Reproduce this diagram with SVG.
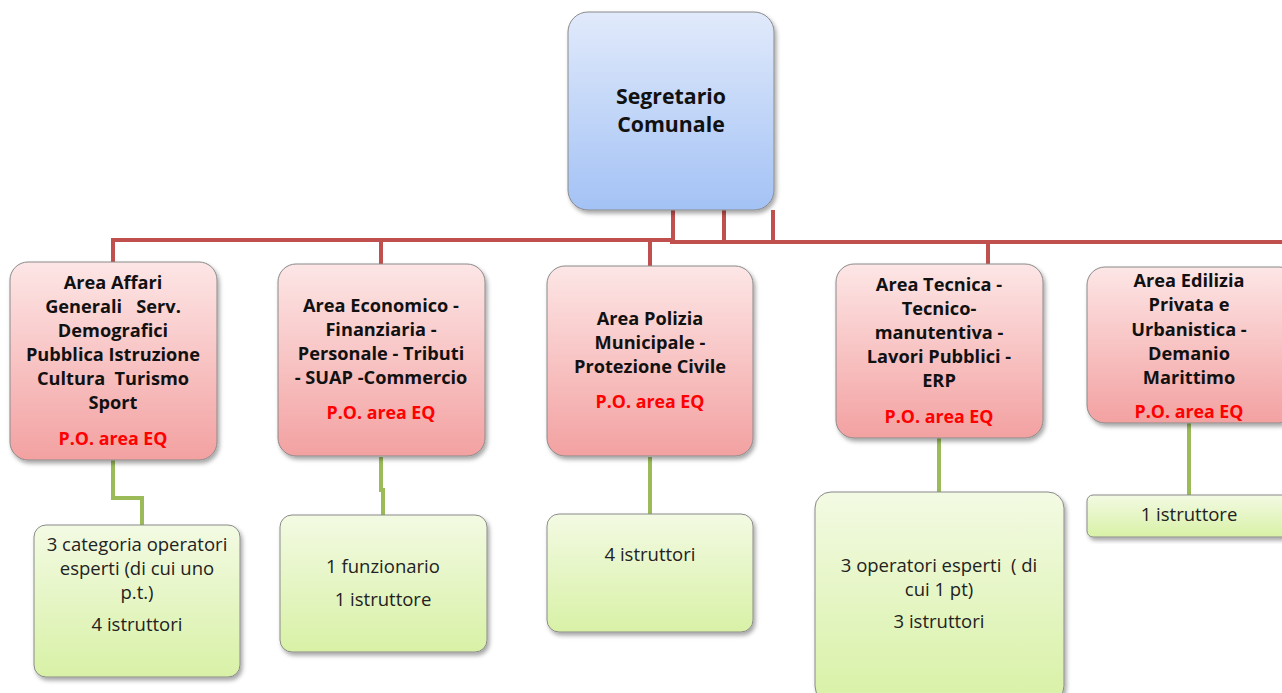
<svg xmlns="http://www.w3.org/2000/svg" width="1282" height="693" viewBox="0 0 1282 693">
<defs>
<linearGradient id="gBlue" x1="0" y1="0" x2="0" y2="1"><stop offset="0" stop-color="#e1eafb"/><stop offset="1" stop-color="#a3c2f5"/></linearGradient>
<linearGradient id="gRed" x1="0" y1="0" x2="0" y2="1"><stop offset="0" stop-color="#fde6e6"/><stop offset="1" stop-color="#f3a1a1"/></linearGradient>
<linearGradient id="gGreen" x1="0" y1="0" x2="0" y2="1"><stop offset="0" stop-color="#f3fae3"/><stop offset="1" stop-color="#d8f1a6"/></linearGradient>
<filter id="sh" x="-10%" y="-10%" width="125%" height="125%"><feDropShadow dx="2" dy="3" stdDeviation="2" flood-color="#000" flood-opacity="0.35"/></filter>
<style>
.box{stroke:#8a8a8a;stroke-width:1;filter:url(#sh)}
.blue{fill:url(#gBlue)}
.red{fill:url(#gRed)}
.green{fill:url(#gGreen)}
.t{font-family:"Open Sans",Lato,"Liberation Sans",sans-serif;text-anchor:middle}
.h{font-weight:bold;font-size:18.2px;fill:#111}
.po{font-weight:bold;font-size:17.8px;fill:#ff0000}
.n{font-size:18.5px;fill:#222}
.root{font-weight:bold;font-size:21.3px;fill:#111}
.rl{stroke:#c0504d;stroke-width:4;fill:none}
.gl{stroke:#9bbb59;stroke-width:4;fill:none}
</style>
</defs>

<g id="connectors">
<path class="rl" d="M673 210V241M724 210V241M773 210V241" />
<path class="rl" stroke-width="5" d="M673 210V241"/>
<path class="rl" d="M113 262V240H673"/>
<path class="rl" d="M670 242H1282"/>
<path class="rl" d="M381 240V265"/>
<path class="rl" d="M650 242V266"/>
<path class="rl" d="M988 242V265"/>
<path class="gl" d="M113 460V498H142V525"/>
<path class="gl" d="M381 457V490H383V515"/>
<path class="gl" d="M650 457V514"/>
<path class="gl" d="M939 438V492"/>
<path class="gl" d="M1189 423V495"/>
</g>

<g id="root">
<rect class="box blue" x="568" y="12" width="206" height="198" rx="20"/>
<text class="t root" x="671" y="104">Segretario</text>
<text class="t root" x="671" y="132">Comunale</text>
</g>

<g id="area1">
<rect class="box red" x="10" y="262" width="207" height="198" rx="18"/>
<text class="t h" x="113" y="289">Area Affari</text>
<text class="t h" x="113" y="313" xml:space="preserve">Generali   Serv.</text>
<text class="t h" x="113" y="337">Demografici</text>
<text class="t h" x="113" y="361">Pubblica Istruzione</text>
<text class="t h" x="113" y="385" xml:space="preserve">Cultura  Turismo</text>
<text class="t h" x="113" y="409">Sport</text>
<text class="t po" x="113" y="445">P.O. area EQ</text>
</g>

<g id="area2">
<rect class="box red" x="278" y="264" width="207" height="192" rx="18"/>
<text class="t h" x="381" y="312">Area Economico -</text>
<text class="t h" x="381" y="336">Finanziaria -</text>
<text class="t h" x="381" y="360">Personale - Tributi</text>
<text class="t h" x="381" y="384">- SUAP -Commercio</text>
<text class="t po" x="381" y="419">P.O. area EQ</text>
</g>

<g id="area3">
<rect class="box red" x="547" y="266" width="206" height="190" rx="18"/>
<text class="t h" x="650" y="325">Area Polizia</text>
<text class="t h" x="650" y="349">Municipale -</text>
<text class="t h" x="650" y="373">Protezione Civile</text>
<text class="t po" x="650" y="408">P.O. area EQ</text>
</g>

<g id="area4">
<rect class="box red" x="836" y="264" width="207" height="174" rx="18"/>
<text class="t h" x="939" y="291">Area Tecnica -</text>
<text class="t h" x="939" y="315">Tecnico-</text>
<text class="t h" x="939" y="339">manutentiva -</text>
<text class="t h" x="939" y="363">Lavori Pubblici -</text>
<text class="t h" x="939" y="387">ERP</text>
<text class="t po" x="939" y="423">P.O. area EQ</text>
</g>

<g id="area5">
<rect class="box red" x="1087" y="267" width="210" height="156" rx="18"/>
<text class="t h" x="1189" y="287">Area Edilizia</text>
<text class="t h" x="1189" y="311">Privata e</text>
<text class="t h" x="1189" y="336">Urbanistica -</text>
<text class="t h" x="1189" y="360">Demanio</text>
<text class="t h" x="1189" y="384">Marittimo</text>
<text class="t po" x="1189" y="418">P.O. area EQ</text>
</g>

<g id="staff1">
<rect class="box green" x="34" y="525" width="206" height="152" rx="12"/>
<text class="t n" x="137" y="551">3 categoria operatori</text>
<text class="t n" x="137" y="575">esperti (di cui uno</text>
<text class="t n" x="137" y="599">p.t.)</text>
<text class="t n" x="137" y="631">4 istruttori</text>
</g>

<g id="staff2">
<rect class="box green" x="280" y="515" width="207" height="137" rx="12"/>
<text class="t n" x="383" y="573">1 funzionario</text>
<text class="t n" x="383" y="606">1 istruttore</text>
</g>

<g id="staff3">
<rect class="box green" x="547" y="514" width="206" height="118" rx="12"/>
<text class="t n" x="650" y="561">4 istruttori</text>
</g>

<g id="staff4">
<rect class="box green" x="815" y="492" width="249" height="210" rx="16"/>
<text class="t n" x="939" y="572" xml:space="preserve">3 operatori esperti  ( di</text>
<text class="t n" x="939" y="596">cui 1 pt)</text>
<text class="t n" x="939" y="628">3 istruttori</text>
</g>

<g id="staff5">
<rect class="box green" x="1087" y="495" width="210" height="42" rx="6"/>
<text class="t n" x="1189" y="521">1 istruttore</text>
</g>
</svg>
